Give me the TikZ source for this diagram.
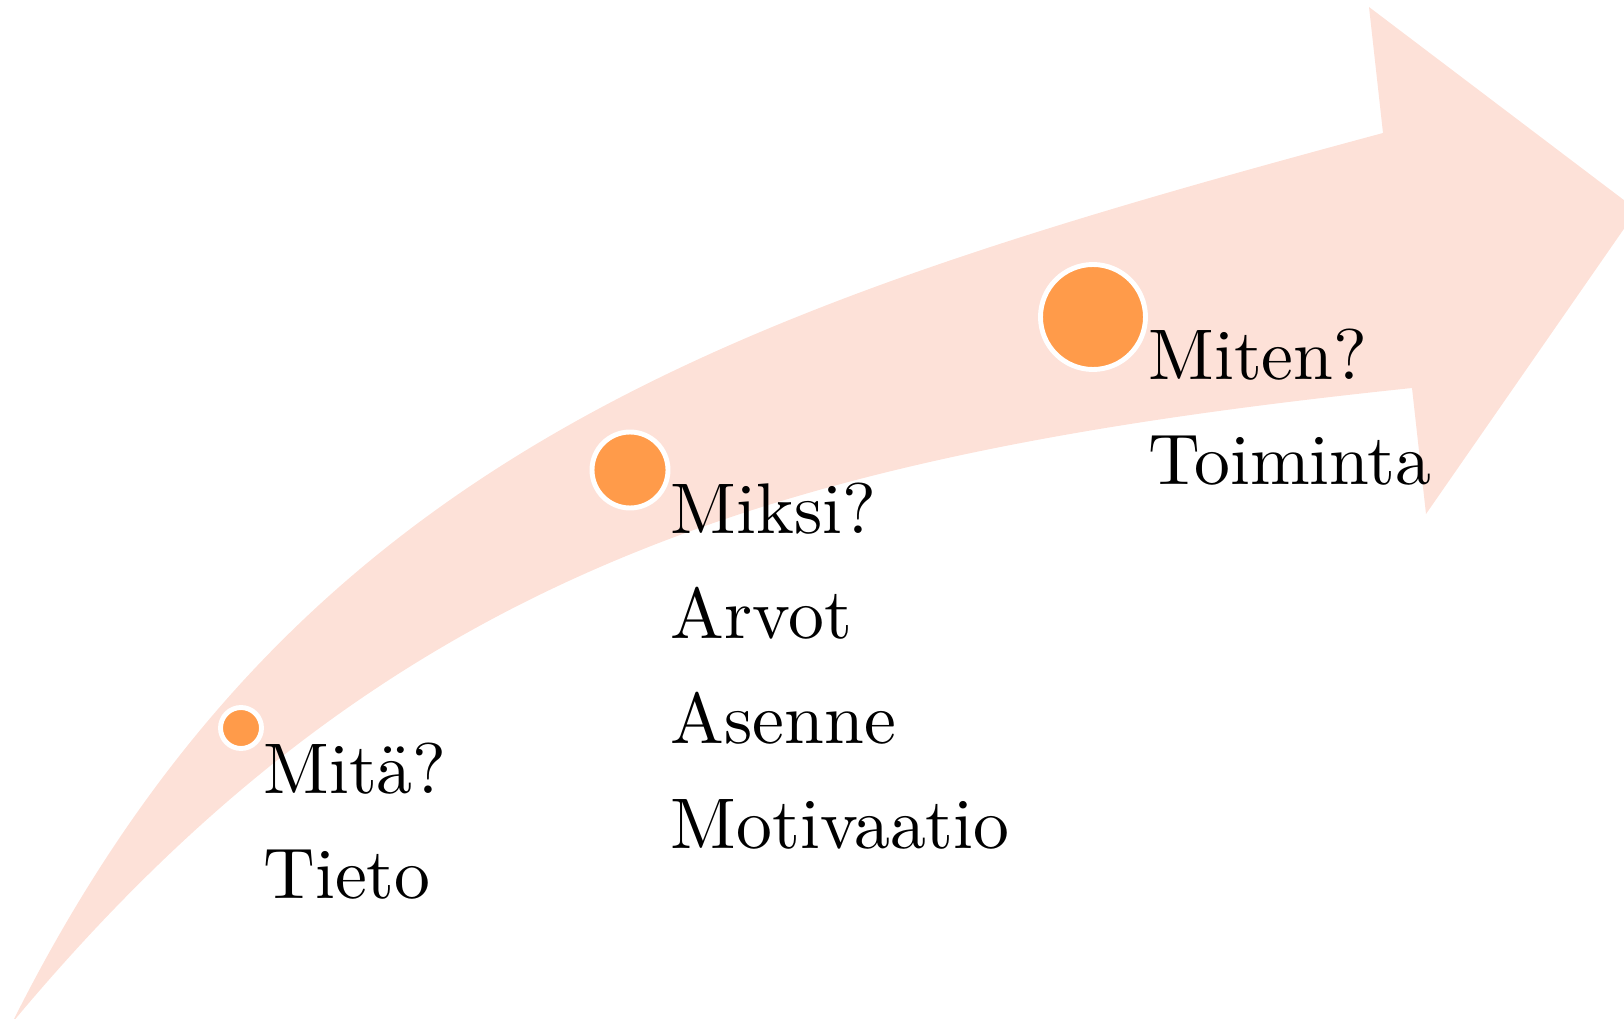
\documentclass[tikz,border=0pt]{standalone}
\usepackage{tikz}
\usetikzlibrary{
    positioning, % For placing nodes relative to each other
    calc         % For shifted coordinates
}

\definecolor{bandpeach}{RGB}{253,225,216}
\definecolor{dotorange}{RGB}{255,155,74}

\begin{document}
\begin{tikzpicture}[
    % Style for the curved band
    band_style/.style={
        fill=bandpeach,
        draw=none
    },
    % Style for the orange markers
    dot_style/.style={
        circle,
        fill=dotorange,
        draw=white,
        line width=1.4pt,
        inner sep=0pt
    },
    % Style for the text beside each marker (10pt design, blown up)
    label_style/.style={
        font=\fontsize{10}{14.6}\selectfont,
        scale=2.04,
        align=left,
        inner sep=0pt,
        anchor=north west
    }
]
    % 0. Fix the page size.
    \clip (0,0) rectangle (16.24,10.18);

    % 1. The curved arrow: upper edge, head, lower edge back to the tail.
    \coordinate (tail) at (0.12,-0.05);
    \fill[band_style] (tail)
        .. controls (2.97,5.65) and (7.33,7.10) .. (13.83,8.85)
        -- (13.69,10.11) -- (16.37,8.08) -- (14.26,5.04) -- (14.12,6.30)
        .. controls (7.82,5.64) and (3.92,4.51) .. (tail)
        -- cycle;

    % 2. The three markers, growing along the band.
    \node[dot_style, minimum size=0.41cm] (dot_mita) at (2.41,2.90) {};
    \node[dot_style, minimum size=0.76cm] (dot_miksi) at (6.30,5.48) {};
    \node[dot_style, minimum size=1.05cm] (dot_miten) at (10.93,7.01) {};

    % 3. The texts, hung below the right side of each marker.
    \node[label_style] (text_mita) at ([xshift=-0.02cm, yshift=-0.14cm]dot_mita.east) {Mitä?\\Tieto};
    \node[label_style] (text_miksi) at ([xshift=-0.01cm, yshift=-0.12cm]dot_miksi.east) {Miksi?\\Arvot\\Asenne\\Motivaatio};
    \node[label_style] (text_miten) at ([xshift=-0.01cm, yshift=-0.11cm]dot_miten.east) {Miten?\\Toiminta};

\end{tikzpicture}
\end{document}
